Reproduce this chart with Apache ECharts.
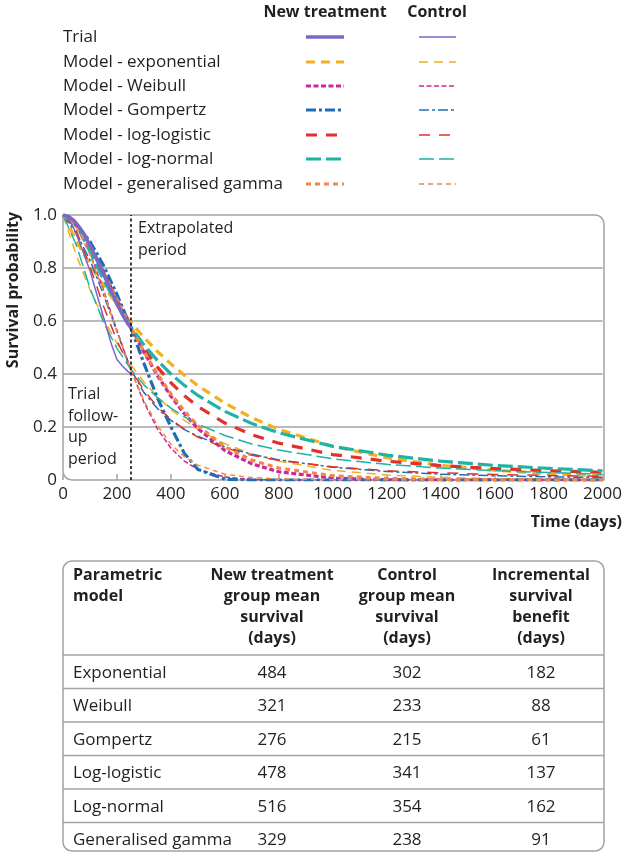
<!DOCTYPE html>
<html><head><meta charset="utf-8">
<script src="https://cdn.jsdelivr.net/npm/echarts/dist/echarts.min.js"></script>
<style>html,body{margin:0;padding:0;background:#fff}#c{width:625px;height:853px}</style>
</head><body><div id="c"></div>
<script>
// ---------- DATA ----------
const xTicks = [0,200,400,600,800,1000,1200,1400,1600,1800,2000];
const yTicks = [0,0.2,0.4,0.6,0.8,1.0];

const trialTimes = [0,20,40,60,80,100,120,140,160,180,200,220,240,255];
const ntTrial   = [1,0.995,0.98,0.955,0.925,0.885,0.845,0.80,0.755,0.71,0.665,0.625,0.59,0.57];
const ctrlTrial = [1,0.985,0.95,0.90,0.845,0.79,0.72,0.65,0.58,0.51,0.455,0.43,0.41,0.40];

const modelTimes = [0,50,100,150,200,250,300,350,400,450,500,600,700,800,1000,1200,1400,1600,1800,2000];
const ntExponential   = [1,0.902,0.813,0.734,0.662,0.597,0.538,0.485,0.438,0.395,0.356,0.290,0.235,0.191,0.127,0.084,0.055,0.037,0.024,0.016];
const ctrlExponential = [1,0.847,0.718,0.609,0.516,0.437,0.370,0.314,0.266,0.225,0.191,0.137,0.098,0.071,0.036,0.019,0.010,0.005,0.003,0.001];
const ntWeibull   = [1,0.959,0.881,0.785,0.682,0.580,0.482,0.394,0.316,0.250,0.194,0.111,0.061,0.031,0.007,0.001,0,0,0,0];
const ctrlWeibull = [1,0.959,0.857,0.717,0.565,0.420,0.293,0.193,0.120,0.071,0.040,0.011,0.002,0,0,0,0,0,0,0];
const ntGompertz   = [1,0.965,0.90,0.81,0.70,0.58,0.44,0.31,0.20,0.10,0.04,0.003,0,0,0,0,0,0,0,0];
const ctrlGompertz = [1,0.93,0.83,0.70,0.56,0.42,0.33,0.27,0.225,0.19,0.165,0.125,0.097,0.076,0.048,0.032,0.022,0.016,0.012,0.009];
const ntLogLogistic   = [1,0.964,0.883,0.781,0.677,0.580,0.497,0.426,0.367,0.318,0.277,0.215,0.171,0.139,0.096,0.071,0.054,0.043,0.035,0.029];
const ctrlLogLogistic = [1,0.939,0.805,0.657,0.525,0.420,0.339,0.276,0.229,0.192,0.162,0.121,0.093,0.074,0.050,0.035,0.027,0.021,0.017,0.014];
const ntLogNormal   = [1,0.961,0.862,0.757,0.662,0.580,0.510,0.451,0.400,0.357,0.319,0.259,0.213,0.178,0.127,0.094,0.071,0.055,0.044,0.035];
const ctrlLogNormal = [1,0.885,0.724,0.596,0.497,0.420,0.359,0.311,0.271,0.238,0.211,0.168,0.136,0.113,0.080,0.059,0.045,0.035,0.028,0.022];
const ntGenGamma   = [1,0.96,0.88,0.785,0.68,0.58,0.485,0.40,0.325,0.26,0.205,0.125,0.075,0.045,0.016,0.006,0.002,0.001,0,0];
const ctrlGenGamma = [1,0.955,0.85,0.71,0.56,0.42,0.30,0.205,0.135,0.088,0.056,0.022,0.009,0.004,0.001,0,0,0,0,0];

const extrapolationStart = 250;

const legendLabels = ['Trial','Model - exponential','Model - Weibull','Model - Gompertz','Model - log-logistic','Model - log-normal','Model - generalised gamma'];
const groupLabels = ['New treatment','Control'];

const tableHeaders = [['Parametric','model'],['New treatment','group mean','survival','(days)'],['Control','group mean','survival','(days)'],['Incremental','survival','benefit','(days)']];
const tableModels = ['Exponential','Weibull','Gompertz','Log-logistic','Log-normal','Generalised gamma'];
const ntMean   = [484,321,276,478,516,329];
const ctrlMean = [302,233,215,341,354,238];
const benefit  = [182,88,61,137,162,91];

// ---------- STYLE ----------
const FONT = '"Open Sans", "Noto Sans", sans-serif';
const TXT = '#231F20';
const GREY = '#A3A3A3';
const styles = [
  {color:'#7B66C8', dash:'solid'},
  {color:'#F2B01E', dash:[9,6]},
  {color:'#D0269B', dash:[5,2.5]},
  {color:'#1F6EB5', dash:[10,3,3,3]},
  {color:'#E2312D', dash:[11,9]},
  {color:'#1DB3A6', dash:[15,5]},
  {color:'#F0884A', dash:[5,4]}
];
const NTW = 3.2, CW = 1.5;

function pts(ts, vs){ return ts.map((t,i)=>[t, vs[i]]); }

const modelSets = [
  [ntExponential, ctrlExponential],
  [ntWeibull, ctrlWeibull],
  [ntGompertz, ctrlGompertz],
  [ntLogLogistic, ctrlLogLogistic],
  [ntLogNormal, ctrlLogNormal],
  [ntGenGamma, ctrlGenGamma]
];

const series = [];
modelSets.forEach((pair, m) => {
  const st = styles[m+1];
  pair.forEach((vals, g) => {
    series.push({
      type:'line', name: legendLabels[m+1] + ' ' + groupLabels[g],
      data: pts(modelTimes, vals), showSymbol:false, symbol:'none',
      smooth:false, silent:true,
      lineStyle:{color:st.color, width: g===0?NTW:CW, type: st.dash, join:'round'}
    });
  });
});
[ntTrial, ctrlTrial].forEach((vals, g) => {
  series.push({
    type:'line', name:'Trial ' + groupLabels[g],
    data: pts(trialTimes, vals), showSymbol:false, symbol:'none', silent:true,
    lineStyle:{color:styles[0].color, width: g===0?3.5:CW, type:'solid'}
  });
});
series[series.length-1].markLine = {
  silent:true, symbol:'none', label:{show:false},
  lineStyle:{color:'#111', width:1.6, type:[3,2.5]},
  data:[{xAxis: extrapolationStart}]
};

// ---------- GRAPHIC ----------
const graphic = [];
const colX = [325, 437];
groupLabels.forEach((g,i)=>graphic.push({type:'text', x:colX[i], y:12,
  style:{text:g, font:'bold 16px '+FONT, fill:TXT, align:'center', verticalAlign:'middle'}}));
const rowY = [37,62,86,110,135,159,184];
legendLabels.forEach((lab,i)=>{
  graphic.push({type:'text', x:63, y:rowY[i], style:{text:lab, font:'17px '+FONT, fill:TXT, align:'left', verticalAlign:'middle'}});
  const st = styles[i];
  [[306,344,i===0?3.5:NTW],[419,456,CW]].forEach(([a,b,w])=>{
    graphic.push({type:'line', shape:{x1:a,y1:rowY[i],x2:b,y2:rowY[i]},
      style:{stroke:st.color, lineWidth:w, lineDash: st.dash==='solid'?null:st.dash}});
  });
});
graphic.push({type:'text', x:13, y:290, rotation:Math.PI/2,
  style:{text:'Survival probability', font:'bold 16px '+FONT, fill:TXT, align:'center', verticalAlign:'middle'}});
graphic.push({type:'text', x:622, y:522,
  style:{text:'Time (days)', font:'bold 16px '+FONT, fill:TXT, align:'right', verticalAlign:'middle'}});
graphic.push({type:'text', x:138, y:217,
  style:{text:'Extrapolated\nperiod', font:'16px '+FONT, fill:TXT, align:'left', verticalAlign:'top', lineHeight:22}});
graphic.push({type:'text', x:68, y:384,
  style:{text:'Trial\nfollow-\nup\nperiod', font:'16px '+FONT, fill:TXT, align:'left', verticalAlign:'top', lineHeight:21.5}});
graphic.push({type:'rect', z:-1, shape:{x:63,y:215,width:541,height:265,r:[0,9,0,9]},
  style:{fill:'none', stroke:GREY, lineWidth:1.5}});
const tX = 63, tY = 561, tW = 541, tH = 290;
graphic.push({type:'rect', shape:{x:tX,y:tY,width:tW,height:tH,r:9}, style:{fill:'none', stroke:GREY, lineWidth:1.5}});
const colCenters = [73, 272, 407, 541];
tableHeaders.forEach((lines,c)=>{
  graphic.push({type:'text', x:colCenters[c], y:565,
    style:{text:lines.join('\n'), font:'bold 16px '+FONT, fill:TXT, align:c===0?'left':'center', verticalAlign:'top', lineHeight:21}});
});
const headSep = 655, rowH = 33.5;
graphic.push({type:'line', shape:{x1:tX,y1:headSep,x2:tX+tW,y2:headSep}, style:{stroke:GREY, lineWidth:1.5}});
tableModels.forEach((m,r)=>{
  const cy = headSep + rowH*r + rowH/2 + 1;
  if (r>0) graphic.push({type:'line', shape:{x1:tX,y1:headSep+rowH*r,x2:tX+tW,y2:headSep+rowH*r}, style:{stroke:GREY, lineWidth:1.5}});
  [m, String(ntMean[r]), String(ctrlMean[r]), String(benefit[r])].forEach((v,c)=>{
    graphic.push({type:'text', x:colCenters[c], y:cy,
      style:{text:v, font:'17px '+FONT, fill:TXT, align:c===0?'left':'center', verticalAlign:'middle'}});
  });
});

// ---------- CHART ----------
const chart = echarts.init(document.getElementById('c'), null, {renderer:'canvas'});
chart.setOption({
  animation:false,
  backgroundColor:'#fff',
  grid:{left:63, right:21, top:215, bottom:373},
  xAxis:{type:'value', min:xTicks[0], max:xTicks[xTicks.length-1], interval:xTicks[1]-xTicks[0],
    axisLine:{show:false}, splitLine:{show:false},
    axisTick:{show:true, inside:true, length:6, lineStyle:{color:GREY, width:1.5}},
    axisLabel:{color:TXT, fontSize:17, fontFamily:FONT, margin:6, formatter:v=>String(v)}},
  yAxis:{type:'value', min:yTicks[0], max:yTicks[yTicks.length-1], interval:yTicks[1]-yTicks[0],
    axisLine:{show:false}, axisTick:{show:false},
    splitLine:{show:true, lineStyle:{color:['rgba(0,0,0,0)',GREY,GREY,GREY,GREY,'rgba(0,0,0,0)'], width:1.5}},
    axisLabel:{color:TXT, fontSize:17, fontFamily:FONT, margin:6,
      formatter:v=> v===0 ? '0' : v.toFixed(1)}},
  series: series,
  graphic: graphic
});
</script></body></html>
